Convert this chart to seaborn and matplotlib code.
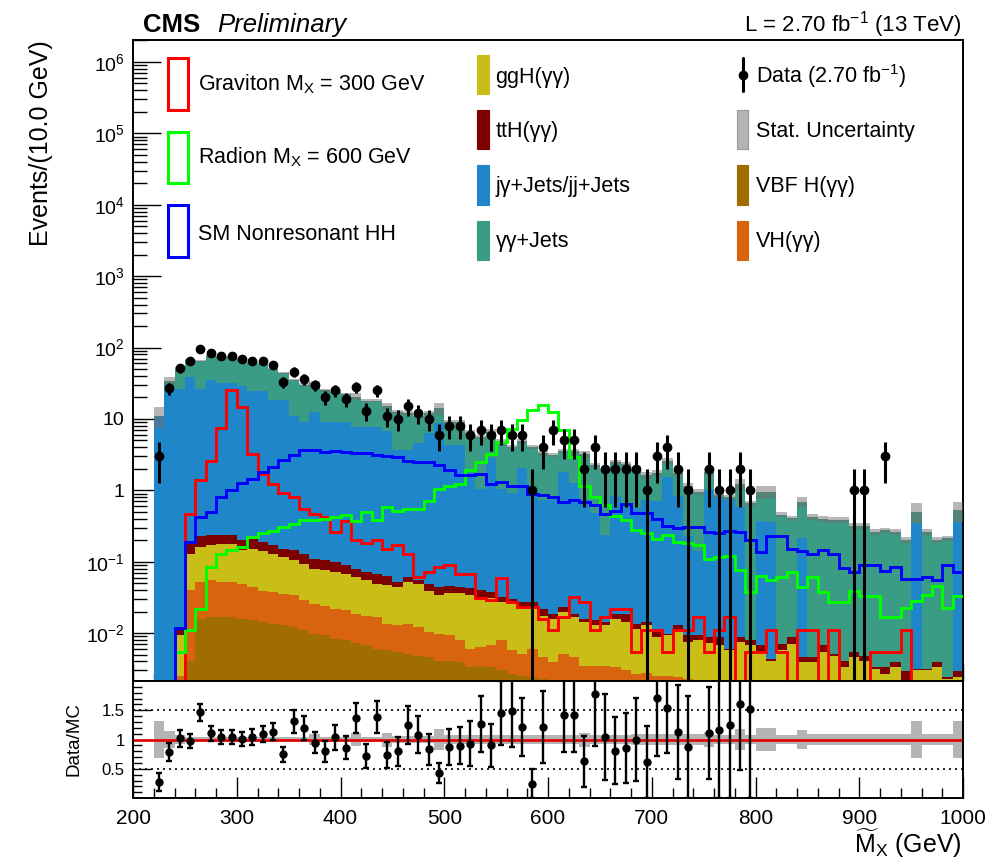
import numpy as np
import pandas as pd
import matplotlib
matplotlib.use("Agg")
import matplotlib.pyplot as plt
import seaborn as sns
from matplotlib.patches import Rectangle
from matplotlib.lines import Line2D
from matplotlib.ticker import FixedLocator, FuncFormatter, MultipleLocator, NullFormatter

# ---------------- data (10 GeV bins, 200 - 1000 GeV) ----------------
bin_edges = np.arange(200, 1001, 10)
bin_centers = bin_edges[:-1] + 5

vbf_h = [0, 0, 0, 0, 0.0005, 0.004, 0.0158, 0.0167, 0.017, 0.0167,
         0.0158, 0.0153, 0.0142, 0.0135, 0.0128, 0.0121, 0.0109, 0.0098, 0.0093, 0.0083,
         0.0079, 0.0073, 0.0068, 0.0060, 0.0057, 0.0054, 0.0051, 0.0048, 0.0046, 0.0041,
         0.0041, 0.0039, 0.0033, 0.0035, 0.0033, 0.0030, 0.0027, 0.0025, 0.0024, 0.0023,
         0.0022, 0.0020, 0.0020, 0.0019, 0.0019, 0.0019, 0.0018, 0.0018, 0.0017, 0.0017,
         0.0017, 0.0016, 0.0016, 0.0016, 0.0016, 0.0015, 0.0014, 0.0014, 0.0014, 0.0014,
         0.0014, 0.0014, 0.0014, 0.0014, 0.0014, 0.0014, 0.0014, 0.0014, 0.0014, 0.0014,
         0.0014, 0.0014, 0.0014, 0.0014, 0.0014, 0.0014, 0.0014, 0.0014, 0.0014, 0.0014]

vh_h = [0, 0, 0, 0, 0.002, 0.0356, 0.036, 0.038, 0.035, 0.035,
        0.033, 0.029, 0.025, 0.024, 0.023, 0.022, 0.018, 0.016, 0.015, 0.0137,
        0.0128, 0.0113, 0.0108, 0.0107, 0.0078, 0.0074, 0.0084, 0.0073, 0.0057, 0.0057,
        0.0052, 0.0040, 0.0027, 0.0029, 0.0035, 0.0049, 0.0030, 0.0026, 0.0036, 0.0023,
        0.0017, 0.0031, 0.0026, 0.0016, 0.0016, 0.0016, 0.0015, 0.0012, 0.0010, 0.0011,
        0.0008, 0.0009, 0.0008, 0.0007, 0.0006, 0.0006, 0.0007, 0.0007, 0.0007, 0.0007,
        0.0007, 0.0007, 0.0007, 0.0007, 0.0007, 0.0007, 0.0007, 0.0007, 0.0007, 0.0007,
        0.0007, 0.0007, 0.0007, 0.0007, 0.0007, 0.0007, 0.0007, 0.0007, 0.0007, 0.0007]

ggh_h = [0, 0, 0, 0, 0.0068, 0.089, 0.111, 0.114, 0.123, 0.123,
         0.098, 0.108, 0.104, 0.091, 0.080, 0.070, 0.065, 0.054, 0.053, 0.050,
         0.047, 0.042, 0.037, 0.032, 0.033, 0.031, 0.038, 0.037, 0.029, 0.024,
         0.027, 0.028, 0.028, 0.026, 0.024, 0.019, 0.020, 0.018, 0.017, 0.013,
         0.012, 0.0145, 0.012, 0.0107, 0.0093, 0.0093, 0.0125, 0.0112, 0.0088, 0.010,
         0.0063, 0.0068, 0.0085, 0.0052, 0.0057, 0.0051, 0.0046, 0.0036, 0.0054, 0.0046,
         0.0033, 0.0020, 0.0036, 0.0050, 0.0018, 0.0018, 0.0033, 0.0027, 0.0012, 0.0025,
         0.0020, 0.0010, 0.0006, 0.0012, 0.0001, 0.0009, 0.0009, 0.0012, 0.0002, 0.0003]

tth_h = [0, 0, 0, 0, 0.0027, 0.050, 0.063, 0.064, 0.058, 0.058,
         0.052, 0.058, 0.045, 0.041, 0.036, 0.040, 0.035, 0.030, 0.027, 0.027,
         0.021, 0.019, 0.017, 0.019, 0.016, 0.008, 0.009, 0.006, 0.0095, 0.0104,
         0.009, 0.0085, 0.0083, 0.0077, 0.0073, 0.005, 0.0046, 0.004, 0.004, 0.0044,
         0.0028, 0.0035, 0.002, 0.0016, 0.0022, 0.0014, 0.0028, 0.0044, 0.002, 0.0014,
         0.0015, 0.0005, 0.0019, 0.0018, 0.0014, 0.0016, 0.0021, 0.0003, 0.0013, 0.0012,
         0.0014, 0.0002, 0.0014, 0.0017, 0.0007, 0.0007, 0.0014, 0.0003, 0.0008, 0.0008,
         0.0007, 0.0002, 0.0006, 0.0006, 0.0007, 0.0001, 0.0001, 0.0006, 0.0001, 0.0005]

jgamma_jets = [0, 0, 10.5, 25, 26, 38, 26, 35, 32, 32,
               29, 24.5, 24.5, 18, 18, 10.7, 9, 12.5, 9, 9,
               9, 7.7, 7.7, 7.7, 6.6, 3.6, 3.6, 4.5, 6.2, 8.6,
               4.3, 4.3, 1.7, 1.0, 2.8, 1.0, 0.9, 2.0, 1.0, 0.72,
               0.72, 1.8, 1.24, 0.72, 0.47, 0.22, 0.81, 0.62, 0.55, 0.72,
               0.69, 1.54, 0.81, 0.22, 0.13, 1.0, 0.8, 0.75, 0.58, 0,
               0.36, 0.36, 0, 0, 0.21, 0, 0, 0, 0, 0,
               0, 0, 0, 0, 0, 0.34, 0, 0, 0, 0.36]

gg_jets = [0, 0, 0.5, 9, 24, 29, 38, 40, 41, 41,
           40, 36.5, 34.5, 32, 26, 24.3, 21, 19, 16, 15,
           13, 12.8, 10.3, 10.3, 8.4, 8.9, 8.4, 6.5, 5.8, 5.4,
           4.8, 4.6, 4.7, 4.5, 3.8, 3.8, 3.1, 2.9, 3.0, 2.55,
           2.36, 1.7, 2.25, 2.46, 1.76, 1.68, 1.64, 1.71, 1.44, 0.88,
           1.06, 1.05, 0.94, 0.92, 0.81, 0.79, 0.05, 0.05, 0.65, 0.65,
           0.59, 0.59, 0.45, 0.40, 0.48, 0.42, 0.39, 0.38, 0.38, 0.31,
           0.31, 0.26, 0.27, 0.26, 0.20, 0.16, 0.26, 0.20, 0.21, 0.16]

stat_unc_rel = [0, 0, 0.32, 0.14, 0.08, 0.04, 0.04, 0.04, 0.04, 0.04,
                0.04, 0.04, 0.04, 0.04, 0.04, 0.04, 0.04, 0.09, 0.05, 0.05,
                0.05, 0.11, 0.05, 0.05, 0.12, 0.06, 0.06, 0.06, 0.06, 0.18,
                0.07, 0.07, 0.07, 0.07, 0.07, 0.07, 0.07, 0.07, 0.07, 0.07,
                0.07, 0.07, 0.07, 0.12, 0.07, 0.07, 0.07, 0.07, 0.10, 0.10,
                0.10, 0.10, 0.10, 0.10, 0.10, 0.13, 0.08, 0.08, 0.18, 0.08,
                0.20, 0.20, 0.08, 0.08, 0.17, 0.09, 0.09, 0.09, 0.09, 0.09,
                0.09, 0.09, 0.09, 0.09, 0.09, 0.31, 0.09, 0.09, 0.09, 0.32]

data_counts = [0, 0, 3, 27, 51, 65, 94, 83, 77, 76,
               70, 64, 65, 57, 33, 46, 36, 30, 20, 25,
               19, 28, 13, 25, 11, 10, 15, 12, 10, 6,
               8, 8, 6, 7, 6, 7, 6, 6, 1, 4,
               7, 5, 5, 2, 4, 2, 2, 2, 2, 1,
               3, 4, 2, 1, 0, 2, 1, 1, 2, 1,
               0, 0, 0, 0, 0, 0, 0, 0, 0, 1,
               1, 0, 3, 0, 0, 0, 0, 0, 0, 0]

graviton_300 = [0, 0, 0, 0, 0, 0.47, 1.38, 2.6, 7.5, 25,
                14.7, 3.2, 1.68, 1.21, 0.92, 0.81, 0.54, 0.47, 0.42, 0.26,
                0.37, 0.20, 0.18, 0.20, 0.152, 0.17, 0.129, 0.061, 0.072, 0.084,
                0.090, 0.067, 0.067, 0.031, 0.029, 0.060, 0.027, 0.023, 0.023, 0.0155,
                0.011, 0.0167, 0.032, 0.027, 0.011, 0.0167, 0.022, 0.022, 0.0054, 0.011,
                0.011, 0.0054, 0.011, 0.011, 0.0167, 0.0054, 0.011, 0.0167, 0, 0.0054,
                0.0054, 0.011, 0.0054, 0, 0.011, 0.011, 0, 0.011, 0, 0,
                0, 0.0054, 0.0054, 0.0054, 0.011, 0, 0, 0, 0, 0]

radion_600 = [0, 0, 0, 0, 0.0054, 0.011, 0.022, 0.084, 0.129, 0.144,
              0.16, 0.22, 0.25, 0.27, 0.31, 0.34, 0.38, 0.38, 0.40, 0.42,
              0.45, 0.37, 0.49, 0.38, 0.59, 0.52, 0.55, 0.55, 0.70, 1.04,
              1.15, 1.24, 1.91, 2.5, 3.27, 4.8, 7.3, 9.6, 13.2, 15.6,
              12.6, 7.0, 2.9, 1.15, 0.81, 0.62, 0.43, 0.38, 0.275, 0.25,
              0.21, 0.24, 0.19, 0.18, 0.17, 0.11, 0.116, 0.122, 0.077, 0.0376,
              0.064, 0.055, 0.061, 0.072, 0.044, 0.061, 0.0376, 0.027, 0.027, 0.039,
              0.033, 0.033, 0.0167, 0.0167, 0.0228, 0.028, 0.034, 0.045, 0.0228, 0.033]

sm_hh = [0, 0, 0, 0, 0.0117, 0.188, 0.42, 0.50, 0.81, 1.0,
         1.27, 1.46, 1.81, 2.12, 2.64, 3.1, 3.64, 3.64, 3.46, 3.6,
         3.46, 3.3, 3.3, 3.1, 3.0, 2.93, 2.6, 2.5, 2.45, 2.24,
         1.91, 1.62, 1.62, 1.71, 1.24, 1.3, 1.15, 1.15, 0.9, 0.85,
         0.81, 0.69, 0.74, 0.69, 0.62, 0.47, 0.52, 0.65, 0.48, 0.48,
         0.40, 0.32, 0.30, 0.31, 0.31, 0.26, 0.25, 0.27, 0.26, 0.20,
         0.136, 0.23, 0.23, 0.152, 0.14, 0.13, 0.145, 0.13, 0.082, 0.071,
         0.089, 0.089, 0.075, 0.085, 0.058, 0.058, 0.061, 0.055, 0.089, 0.071]

# stack order listed top -> bottom (seaborn stacks the last level at the bottom)
process_names = ["γγ+Jets", "jγ+Jets/jj+Jets", "ttH(γγ)", "ggH(γγ)", "VH(γγ)", "VBF H(γγ)"]
process_values = [gg_jets, jgamma_jets, tth_h, ggh_h, vh_h, vbf_h]
process_colors = ["#3b9c85", "#1f86c9", "#7d0000", "#c9bd18", "#d9640f", "#a06e00"]

# ---------------- style ----------------
sns.set_theme(style="ticks")
plt.rcParams.update({
    "font.family": ["Liberation Sans", "DejaVu Sans"],
    "mathtext.fontset": "custom",
    "mathtext.rm": "Liberation Sans",
    "mathtext.it": "Liberation Sans:italic",
    "mathtext.bf": "Liberation Sans:bold",
    "mathtext.sf": "Liberation Sans",
    "axes.linewidth": 1.4,
    "axes.edgecolor": "black",
    "xtick.color": "black",
    "ytick.color": "black",
    "text.color": "black",
})

W, H = 1007, 860
fig = plt.figure(figsize=(W / 100, H / 100), dpi=100)


def fx(px):
    return px / W


def fy(py):
    return 1 - py / H


ax = fig.add_axes([fx(133), fy(681), fx(963) - fx(133), fy(40) - fy(681)])
ax2 = fig.add_axes([fx(133), fy(797.5), fx(963) - fx(133), fy(681) - fy(797.5)])

YMIN, YMAX = 2.13e-3, 2.03e6

# ---------------- stacked backgrounds (seaborn) ----------------
df = pd.DataFrame({
    "mx": np.tile(bin_centers, len(process_names)).astype(float),
    "events": np.concatenate([np.asarray(v, float) for v in process_values]),
    "process": np.repeat(process_names, len(bin_centers)),
})
palette = dict(zip(process_names, process_colors))
sns.histplot(data=df, x="mx", weights="events", hue="process", hue_order=process_names,
             multiple="stack", binwidth=10, binrange=(200, 1000), element="step", fill=True,
             alpha=1, palette=palette, linewidth=0, legend=False, ax=ax)
ax.set_yscale("log")

total = np.sum([np.asarray(v, float) for v in process_values], axis=0)
rel = np.asarray(stat_unc_rel, float)
has_mc = total > 0
err = total * rel
ax.bar(bin_centers[has_mc], 2 * err[has_mc], bottom=(total - err)[has_mc], width=10,
       color="#6e6e6e", alpha=0.5, linewidth=0, zorder=3)

# ---------------- signals ----------------
for vals, col in [(graviton_300, "#ff0000"), (radion_600, "#00ff00"), (sm_hh, "#0000ff")]:
    ax.stairs(np.maximum(np.asarray(vals, float), YMIN), bin_edges, color=col, lw=2.1,
              baseline=None, zorder=4)

# ---------------- data ----------------
dat = np.asarray(data_counts, float)
hd = dat > 0
lo = dat[hd] - np.maximum(dat[hd] - np.sqrt(dat[hd]), 1e-5)
hi = np.sqrt(dat[hd])
ax.errorbar(bin_centers[hd], dat[hd], yerr=[lo, hi], fmt="o", ms=6, color="black",
            mfc="black", mec="black", elinewidth=2.2, capsize=0, zorder=6)

ax.set_xlim(200, 1000)
ax.set_ylim(YMIN, YMAX)
ax.set_xlabel("")
ax.set_ylabel("")


def logfmt(v, pos):
    e = int(np.round(np.log10(v)))
    if e == 0:
        return "1"
    if e == 1:
        return "10"
    return r"$10^{%d}$" % e


major_y = [10.0 ** e for e in range(-2, 7)]
minor_y = [m * 10.0 ** e for e in range(-3, 7) for m in range(2, 10)
           if YMIN <= m * 10.0 ** e <= YMAX]
ax.yaxis.set_major_locator(FixedLocator(major_y))
ax.yaxis.set_minor_locator(FixedLocator(minor_y))
ax.yaxis.set_major_formatter(FuncFormatter(logfmt))
ax.yaxis.set_minor_formatter(NullFormatter())
ax.xaxis.set_major_locator(MultipleLocator(100))
ax.xaxis.set_minor_locator(MultipleLocator(20))
ax.tick_params(axis="y", which="major", direction="in", length=20, width=1.0, labelsize=14, pad=6, right=False)
ax.tick_params(axis="y", which="minor", direction="in", length=10, width=1.0, right=False)
ax.tick_params(axis="x", which="major", direction="in", length=12, width=1.0, labelbottom=False, top=False)
ax.tick_params(axis="x", which="minor", direction="in", length=6, width=1.0, top=False)

# ---------------- ratio panel ----------------
safe_total = np.where(has_mc, total, 1.0)
ratio = np.where(has_mc, dat / safe_total, np.nan)
ratio_err = np.where(has_mc, np.sqrt(dat) / safe_total, np.nan)
sel = has_mc & (dat > 0) & (ratio <= 2.0)

ax2.bar(bin_centers[has_mc], 2 * rel[has_mc], bottom=1 - rel[has_mc], width=10,
        color="#b4b4b4", linewidth=0, zorder=1)
ax2.axhline(1.0, color="#e30000", lw=1.9, zorder=2)
for yv in (0.5, 1.5):
    ax2.axhline(yv, color="black", lw=1.2, ls=(0, (1.2, 2.4)), zorder=2)
ax2.errorbar(bin_centers[sel], ratio[sel], yerr=ratio_err[sel], fmt="o", ms=5,
             color="black", elinewidth=1.7, capsize=2.5, capthick=1.7, zorder=5)

ax2.set_xlim(200, 1000)
ax2.set_ylim(0.01, 2.0)
ax2.yaxis.set_major_locator(FixedLocator([0.5, 1.0, 1.5]))
ax2.yaxis.set_major_formatter(FuncFormatter(lambda v, p: {0.5: "0.5", 1.0: "1", 1.5: "1.5"}.get(round(v, 2), "")))
ax2.yaxis.set_minor_locator(FixedLocator([i / 10 for i in range(1, 20)]))
ax2.xaxis.set_major_locator(MultipleLocator(100))
ax2.xaxis.set_minor_locator(MultipleLocator(20))
ax2.tick_params(axis="x", which="major", direction="in", length=15, width=1.0, labelsize=15, pad=8, top=False)
ax2.tick_params(axis="x", which="minor", direction="in", length=7.5, width=1.0, top=False)
ax2.tick_params(axis="y", which="major", direction="in", length=13, width=1.0, labelsize=12, pad=6, right=False)
ax2.tick_params(axis="y", which="minor", direction="in", length=6.5, width=1.0, right=False)

# ---------------- texts ----------------
fig.text(fx(41), fy(40), "Events/(10.0 GeV)", rotation=90, ha="center", va="top", fontsize=18)
fig.text(fx(74), fy(739), "Data/MC", rotation=90, ha="center", va="center", fontsize=13.5)
fig.text(fx(962), fy(853), r"$\widetilde{\mathrm{M}}_{\mathrm{X}}$ (GeV)", ha="right", va="baseline", fontsize=18)
fig.text(fx(143), fy(32), "CMS", fontweight="bold", fontsize=18.5, va="baseline")
fig.text(fx(217), fy(32), "Preliminary", style="italic", fontsize=18.5, va="baseline")
fig.text(fx(962), fy(32), r"L = 2.70 fb$^{-1}$ (13 TeV)", ha="right", va="baseline", fontsize=16)

# ---------------- legend (drawn by hand, ROOT style) ----------------
LFS = 15.5
sig_entries = [("#ff0000", r"Graviton M$_{\mathrm{X}}$ = 300 GeV", 58, 110, 90),
               ("#00ff00", r"Radion M$_{\mathrm{X}}$ = 600 GeV", 132, 183, 163.5),
               ("#0000ff", "SM Nonresonant HH", 205, 257, 240)]
for col, lab, y0, y1, yb in sig_entries:
    fig.add_artist(Rectangle((fx(168), fy(y1)), fx(188) - fx(168), fy(y0) - fy(y1), fill=False,
                             edgecolor=col, lw=2.2, transform=fig.transFigure))
    fig.text(fx(198), fy(yb), lab, fontsize=LFS, va="baseline")

box_rows = [(55, 94.3, 82.5), (110, 149.3, 137), (165, 205, 192), (220.7, 260, 247)]
mid_entries = [("#c9bd18", "ggH(γγ)"), ("#7d0000", "ttH(γγ)"),
               ("#1f86c9", "jγ+Jets/jj+Jets"), ("#3b9c85", "γγ+Jets")]
for (col, lab), (y0, y1, yb) in zip(mid_entries, box_rows):
    fig.add_artist(Rectangle((fx(476.5), fy(y1)), fx(488.5) - fx(476.5), fy(y0) - fy(y1),
                             facecolor=col, edgecolor=col, lw=0.8, transform=fig.transFigure))
    fig.text(fx(495.5), fy(yb), lab, fontsize=LFS, va="baseline")

# data entry
fig.add_artist(Line2D([fx(742.8), fx(742.8)], [fy(58), fy(91)], color="black", lw=2.2,
                      transform=fig.transFigure))
fig.add_artist(Line2D([fx(742.8)], [fy(75)], marker="o", ms=6, color="black",
                      transform=fig.transFigure))
fig.text(fx(755.5), fy(box_rows[0][2]), r"Data (2.70 fb$^{-1}$)", fontsize=LFS, va="baseline")
right_entries = [("#b4b4b4", "#999999", "Stat. Uncertainty"),
                 ("#a06e00", "#a06e00", "VBF H(γγ)"),
                 ("#d9640f", "#d9640f", "VH(γγ)")]
for (fc, ec, lab), (y0, y1, yb) in zip(right_entries, box_rows[1:]):
    fig.add_artist(Rectangle((fx(737), fy(y1)), fx(748) - fx(737), fy(y0) - fy(y1),
                             facecolor=fc, edgecolor=ec, lw=0.8, transform=fig.transFigure))
    fig.text(fx(755.5), fy(yb), lab, fontsize=LFS, va="baseline")

fig.savefig("out.png", dpi=100)
